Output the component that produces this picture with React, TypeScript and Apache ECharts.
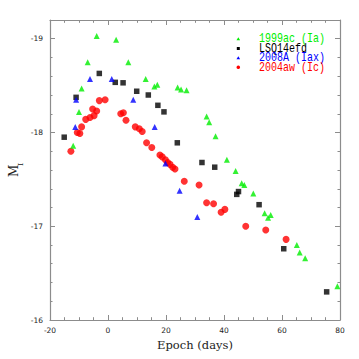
import React, { useEffect, useRef } from "react";
import * as echarts from "echarts";

// ---- data ----
const sn1999acDays = [-12.0, -10.0, -9.1, -7.0, -3.9, 2.8, 7.0, 13.0, 16.0, 17.0, 24.0, 25.2, 27.1, 34.0, 34.9, 37.1, 41.0, 44.0, 46.1, 47.0, 50.1, 54.0, 55.2, 56.1, 65.1, 66.1, 68.0, 79.1];
const sn1999acMag = [-17.86, -18.22, -18.47, -18.75, -19.03, -18.99, -18.75, -18.57, -18.49, -18.51, -18.48, -18.46, -18.45, -18.17, -18.11, -17.96, -17.71, -17.59, -17.46, -17.44, -17.35, -17.14, -17.09, -17.12, -16.8, -16.72, -16.66, -16.36];

const lsq14efdDays = [-15.1, -11.0, -3.0, 2.5, 5.2, 9.9, 13.9, 17.2, 19.3, 23.9, 32.4, 36.8, 44.4, 45.0, 52.1, 60.6, 75.4];
const lsq14efdMag = [-17.95, -18.375, -18.63, -18.535, -18.53, -18.44, -18.4, -18.29, -18.22, -17.89, -17.68, -17.63, -17.34, -17.37, -17.23, -16.76, -16.3];

const sn2008aDays = [-11.3, -11.0, -6.2, 1.3, 8.7, 16.1, 19.8, 24.7, 30.8];
const sn2008aMag = [-18.06, -18.35, -18.57, -18.57, -18.35, -18.06, -17.67, -17.38, -17.1];

const sn2004awDays = [-12.8, -10.6, -9.7, -9.1, -7.7, -6.2, -5.3, -4.8, -3.9, -3.0, -1.0, 4.4, 5.3, 6.2, 9.4, 10.8, 11.8, 13.3, 15.1, 17.9, 18.7, 19.8, 20.6, 21.4, 22.3, 23.1, 26.3, 31.4, 34.0, 36.4, 39.0, 40.3, 47.5, 54.4, 61.4];
const sn2004awMag = [-17.8, -18.0, -17.99, -18.06, -18.14, -18.16, -18.25, -18.18, -18.23, -18.34, -18.35, -18.2, -18.21, -18.13, -18.06, -18.04, -18.01, -17.89, -17.84, -17.76, -17.74, -17.71, -17.68, -17.66, -17.63, -17.61, -17.48, -17.44, -17.25, -17.24, -17.15, -17.18, -17.0, -16.96, -16.86];

const legendNames = ["1999ac (Ia)", "LSQ14efd", "2008A (Iax)", "2004aw (Ic)"];
const legendColors = ["#00ee00", "#000000", "#0000ff", "#ff0000"];

const xTicks = [-20, 0, 20, 40, 60, 80];
const yMajorTicks = [-19, -18, -17, -16];

const pairs = (xs: number[], ys: number[]) => xs.map((x, i) => [x, ys[i]]);

const AXIS_COLOR = "#8c8c8c";
const LABEL_FONT = { fontFamily: "DejaVu Sans", fontSize: 7.5, color: "#222" };

export default function App() {
  const ref = useRef<HTMLDivElement>(null);

  useEffect(() => {
    if (!ref.current) return;
    const chart = echarts.init(ref.current, undefined, { renderer: "svg" });

    const xBase = {
      type: "value" as const,
      min: xTicks[0],
      max: xTicks[xTicks.length - 1],
      interval: 20,
      axisLine: { show: true, onZero: false, lineStyle: { color: AXIS_COLOR, width: 1.2 } },
      axisTick: { show: true, inside: true, length: 5, lineStyle: { color: AXIS_COLOR } },
      minorTick: { show: true, splitNumber: 4, length: 2.8, lineStyle: { color: AXIS_COLOR } },
      splitLine: { show: false },
      minorSplitLine: { show: false },
    };

    const yBase = {
      type: "value" as const,
      min: -19.2,
      max: -16,
      interval: 0.2,
      inverse: true,
      splitLine: { show: false },
      axisLine: { show: true, onZero: false, lineStyle: { color: AXIS_COLOR, width: 1.2 } },
    };

    const legendY = [39, 48.5, 58, 67.3];
    const sx = 238.3;
    const legendGraphics: any[] = [
      { type: "polygon", shape: { points: [[sx, legendY[0] - 1.8], [sx - 1.8, legendY[0] + 1.3], [sx + 1.8, legendY[0] + 1.3]] }, style: { fill: legendColors[0] } },
      { type: "rect", shape: { x: sx - 1.5, y: legendY[1] - 1.5, width: 3, height: 3 }, style: { fill: legendColors[1] } },
      { type: "polygon", shape: { points: [[sx, legendY[2] - 1.8], [sx - 1.8, legendY[2] + 1.3], [sx + 1.8, legendY[2] + 1.3]] }, style: { fill: legendColors[2] } },
      { type: "circle", shape: { cx: sx, cy: legendY[3], r: 1.8 }, style: { fill: legendColors[3] } },
      ...legendNames.map((n, i) => ({
        type: "text",
        x: 259,
        y: legendY[i],
        scaleY: 1.2,
        style: {
          text: n,
          fill: legendColors[i],
          fontFamily: "Liberation Mono",
          fontSize: 10,
          verticalAlign: "middle",
          align: "left",
        },
      })),
      {
        type: "group",
        x: 14,
        y: 177,
        rotation: Math.PI / 2,
        children: [
          { type: "text", x: 0, y: 0, style: { text: "M", fontFamily: "DejaVu Serif", fontSize: 12, fill: "#222", align: "left", verticalAlign: "middle" } },
          { type: "text", x: 11, y: 6.5, style: { text: "I", fontFamily: "DejaVu Serif", fontSize: 8, fill: "#222", align: "left", verticalAlign: "middle" } },
        ],
      },
    ];

    const option: any = {
      animation: false,
      backgroundColor: "#ffffff",
      grid: { left: 50, right: 19, top: 20, bottom: 39, containLabel: false },
      xAxis: [
        {
          ...xBase,
          position: "bottom",
          axisLabel: { show: true, margin: 6, ...LABEL_FONT },
          name: "Epoch (days)",
          nameLocation: "middle",
          nameGap: 19,
          nameTextStyle: { fontFamily: "DejaVu Serif", fontSize: 11.5, color: "#222" },
        },
        { ...xBase, position: "top", axisLabel: { show: false } },
      ],
      yAxis: [
        {
          ...yBase,
          position: "left",
          axisTick: { show: true, inside: true, length: 5, customValues: yMajorTicks, lineStyle: { color: AXIS_COLOR } },
          axisLabel: { show: true, margin: 7, customValues: yMajorTicks, formatter: (v: number) => String(Math.round(v)), ...LABEL_FONT },
        },
        {
          ...yBase,
          position: "left",
          axisLine: { show: false, onZero: false },
          axisTick: { show: true, inside: true, length: 2.5, lineStyle: { color: AXIS_COLOR } },
          axisLabel: { show: false },
        },
        {
          ...yBase,
          position: "right",
          axisTick: { show: true, inside: true, length: 5, customValues: yMajorTicks, lineStyle: { color: AXIS_COLOR } },
          axisLabel: { show: false },
        },
        {
          ...yBase,
          position: "right",
          axisLine: { show: false, onZero: false },
          axisTick: { show: true, inside: true, length: 2.5, lineStyle: { color: AXIS_COLOR } },
          axisLabel: { show: false },
        },
      ],
      series: [
        {
          name: legendNames[3],
          type: "scatter",
          data: pairs(sn2004awDays, sn2004awMag),
          symbol: "circle",
          symbolSize: 7,
          itemStyle: { color: legendColors[3] },
          z: 2,
        },
        {
          name: legendNames[0],
          type: "scatter",
          data: pairs(sn1999acDays, sn1999acMag),
          symbol: "triangle",
          symbolSize: 6,
          itemStyle: { color: legendColors[0] },
          z: 3,
        },
        {
          name: legendNames[1],
          type: "scatter",
          data: pairs(lsq14efdDays, lsq14efdMag),
          symbol: "rect",
          symbolSize: 5.5,
          itemStyle: { color: legendColors[1] },
          z: 4,
        },
        {
          name: legendNames[2],
          type: "scatter",
          data: pairs(sn2008aDays, sn2008aMag),
          symbol: "triangle",
          symbolSize: 6,
          itemStyle: { color: legendColors[2] },
          z: 5,
        },
      ],
      graphic: legendGraphics,
    };

    chart.setOption(option);
    return () => chart.dispose();
  }, []);

  return <div ref={ref} style={{ position: "fixed", left: 0, top: 0, width: 359, height: 359 }} />;
}
